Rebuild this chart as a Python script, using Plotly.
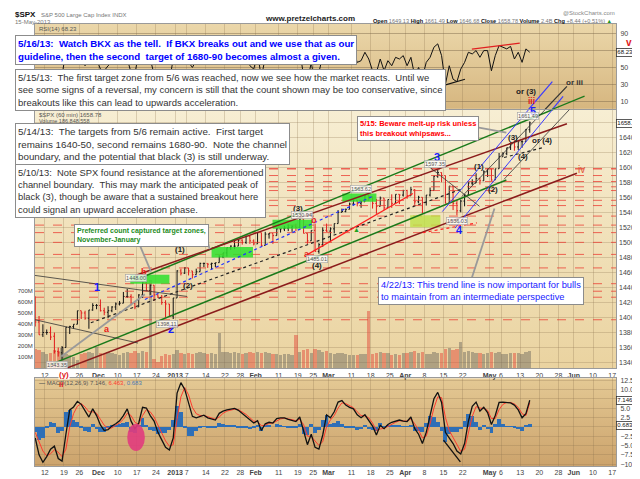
import base64
import plotly.graph_objects as go

# one value per trading day, Nov 7 2012 .. May 15 2013 (60 min chart squeezed to days)
opens = [1428, 1394, 1377, 1380, 1380, 1375, 1355, 1353, 1360, 1387,
         1388, 1391, 1409, 1406, 1399, 1410, 1416, 1416, 1409, 1407,
         1409, 1414, 1418, 1419, 1428, 1428, 1419, 1414, 1430, 1446,
         1436, 1443, 1430, 1427, 1420, 1418, 1402, 1426, 1462, 1459,
         1466, 1462, 1457, 1461, 1472, 1472, 1471, 1472, 1473, 1481,
         1486, 1493, 1495, 1495, 1503, 1500, 1508, 1502, 1498, 1513,
         1496, 1511, 1512, 1509, 1518, 1518, 1519, 1520, 1521, 1520,
         1531, 1512, 1502, 1516, 1488, 1497, 1516, 1515, 1518, 1525,
         1540, 1541, 1544, 1551, 1556, 1552, 1554, 1563, 1561, 1552,
         1548, 1559, 1546, 1557, 1552, 1564, 1563, 1569, 1562, 1570,
         1554, 1560, 1553, 1563, 1569, 1588, 1593, 1589, 1552, 1575,
         1552, 1542, 1555, 1563, 1579, 1579, 1585, 1582, 1594, 1598,
         1583, 1598, 1614, 1618, 1626, 1633, 1627, 1634, 1634, 1650]
highs = [1428, 1402, 1391, 1384, 1388, 1380, 1360, 1362, 1387, 1389,
         1391, 1409, 1409, 1409, 1410, 1419, 1418, 1424, 1413, 1415,
         1415, 1420, 1422, 1434, 1438, 1431, 1420, 1431, 1448, 1448,
         1444, 1443, 1431, 1430, 1423, 1418, 1426, 1463, 1465, 1467,
         1466, 1462, 1465, 1473, 1473, 1472, 1473, 1473, 1483, 1486,
         1493, 1496, 1502, 1504, 1504, 1509, 1509, 1504, 1514, 1513,
         1514, 1512, 1512, 1519, 1518, 1522, 1524, 1523, 1525, 1531,
         1531, 1512, 1516, 1525, 1499, 1520, 1525, 1520, 1525, 1543,
         1545, 1545, 1553, 1557, 1556, 1556, 1563, 1563, 1561, 1558,
         1561, 1559, 1557, 1564, 1564, 1564, 1570, 1570, 1574, 1571,
         1562, 1560, 1563, 1573, 1589, 1597, 1593, 1589, 1575, 1575,
         1555, 1557, 1564, 1580, 1584, 1592, 1586, 1596, 1598, 1598,
         1598, 1619, 1620, 1626, 1633, 1636, 1634, 1636, 1651, 1661]
lows = [1388, 1377, 1374, 1377, 1370, 1352, 1348, 1343, 1360, 1378,
        1385, 1391, 1398, 1397, 1385, 1409, 1411, 1408, 1403, 1399,
        1407, 1410, 1416, 1419, 1426, 1416, 1411, 1414, 1426, 1435,
        1430, 1422, 1426, 1417, 1400, 1401, 1398, 1426, 1456, 1458,
        1456, 1452, 1457, 1461, 1467, 1466, 1464, 1467, 1473, 1479,
        1481, 1490, 1491, 1495, 1497, 1498, 1498, 1496, 1498, 1495,
        1496, 1505, 1498, 1509, 1513, 1515, 1515, 1514, 1515, 1520,
        1512, 1498, 1502, 1488, 1485, 1494, 1514, 1501, 1512, 1525,
        1540, 1540, 1544, 1549, 1548, 1546, 1554, 1555, 1545, 1538,
        1548, 1543, 1546, 1546, 1552, 1551, 1561, 1558, 1562, 1550,
        1552, 1539, 1549, 1561, 1569, 1586, 1580, 1552, 1552, 1543,
        1536, 1540, 1548, 1563, 1576, 1579, 1577, 1582, 1587, 1582,
        1583, 1598, 1614, 1616, 1623, 1622, 1623, 1626, 1634, 1646]
closes = [1394, 1377, 1380, 1380, 1374, 1355, 1353, 1360, 1387, 1388,
          1391, 1409, 1406, 1399, 1410, 1416, 1416, 1409, 1407, 1409,
          1414, 1418, 1419, 1428, 1428, 1419, 1414, 1430, 1446, 1436,
          1443, 1430, 1427, 1420, 1418, 1402, 1426, 1462, 1459, 1466,
          1462, 1457, 1461, 1472, 1472, 1471, 1472, 1473, 1481, 1486,
          1493, 1495, 1495, 1503, 1500, 1508, 1502, 1498, 1513, 1496,
          1511, 1512, 1509, 1518, 1518, 1519, 1520, 1521, 1520, 1531,
          1512, 1502, 1516, 1488, 1497, 1516, 1515, 1518, 1525, 1540,
          1541, 1544, 1551, 1556, 1552, 1554, 1563, 1561, 1552, 1548,
          1559, 1546, 1557, 1552, 1564, 1563, 1569, 1562, 1570, 1554,
          1560, 1553, 1563, 1569, 1588, 1593, 1589, 1552, 1575, 1552,
          1542, 1555, 1563, 1579, 1579, 1585, 1582, 1594, 1598, 1583,
          1598, 1614, 1618, 1626, 1633, 1627, 1634, 1634, 1650, 1659]
volume_m = [180, 165, 150, 130, 145, 170, 160, 185, 135, 125,
            105, 75, 130, 140, 150, 140, 195, 140, 135, 150,
            140, 130, 125, 145, 150, 140, 160, 145, 160, 150,
            800, 90, 60, 110, 135, 120, 130, 165, 140, 135,
            140, 135, 140, 150, 140, 130, 140, 135, 320, 150,
            150, 140, 150, 145, 130, 140, 150, 140, 150, 145,
            150, 140, 135, 130, 120, 130, 135, 125, 300, 150,
            170, 175, 140, 180, 165, 150, 155, 145, 130, 145,
            140, 130, 125, 120, 125, 130, 135, 520, 130, 140,
            150, 145, 140, 120, 130, 125, 145, 140, 150, 155,
            140, 150, 130, 135, 150, 145, 140, 180, 185, 170,
            175, 240, 150, 160, 150, 145, 140, 135, 145, 150,
            145, 150, 130, 135, 140, 145, 140, 130, 150, 160]
rsi = [35, 28, 40, 42, 38, 30, 32, 40, 70, 62,
       66, 74, 60, 52, 64, 66, 60, 48, 46, 52,
       56, 60, 58, 66, 60, 44, 42, 68, 72, 54,
       60, 42, 44, 38, 40, 34, 60, 80, 66, 70,
       56, 50, 58, 68, 64, 60, 62, 64, 70, 72,
       68, 70, 64, 70, 58, 66, 52, 48, 66, 38,
       62, 60, 54, 66, 60, 62, 60, 58, 56, 70,
       40, 32, 56, 30, 44, 64, 58, 56, 64, 76,
       70, 68, 72, 70, 56, 58, 68, 60, 46, 44,
       60, 46, 58, 52, 62, 60, 64, 52, 62, 40,
       50, 38, 56, 62, 74, 78, 64, 30, 52, 36,
       33, 48, 56, 68, 66, 70, 62, 70, 70, 46,
       64, 76, 74, 72, 75, 60, 68, 56, 72, 68]
macd = [-3.0, -7.5, -9.5, -8.0, -6.0, -5.2, -8.5, -9.2, -2.0, 4.5,
        5.3, 6.8, 6.0, 4.2, 2.6, 4.8, 3.0, 0.5, -1.0, -0.8,
        0.2, 0.8, 1.6, 3.0, 4.8, 1.5, -0.5, 1.0, 5.2, 5.0,
        3.0, 1.5, -1.5, -3.5, -5.5, -6.2, -3.0, 9.0, 11.8, 10.0,
        6.0, 2.8, 2.4, 2.8, 3.1, 2.4, 2.0, 1.8, 3.6, 4.2,
        4.5, 4.7, 4.9, 4.4, 3.6, 2.8, 1.8, 1.0, 1.6, -1.0,
        0.8, 1.2, 1.0, 2.2, 2.4, 2.4, 2.0, 1.6, 1.4, 2.6,
        -1.5, -4.8, -2.0, -5.5, -6.0, -2.2, 3.2, 2.4, 4.0, 6.6,
        7.0, 5.8, 5.2, 4.8, 3.2, 2.4, 3.2, 1.8, 0.2, -2.2,
        0.4, -0.5, 0.6, 1.2, 1.6, 1.8, 1.5, 1.4, 2.6, -0.5,
        -2.0, -4.5, -1.5, 3.5, 7.5, 9.2, 6.5, -1.5, -3.0, -4.5,
        -6.5, -7.3, -4.5, 1.5, 5.5, 6.6, 4.2, 5.2, 3.8, 0.6,
        3.0, 6.5, 6.6, 6.6, 6.4, 5.8, 4.5, 2.4, 3.5, 7.1]
signal = [-1.5, -4.0, -6.5, -7.8, -7.2, -6.2, -6.8, -8.0, -6.0, 0.0,
          3.5, 5.5, 6.2, 5.3, 4.0, 4.0, 3.6, 2.0, 0.4, -0.4,
          -0.3, 0.4, 1.0, 2.0, 3.6, 3.0, 1.2, 0.6, 3.0, 4.6,
          4.0, 2.6, 0.5, -1.8, -3.8, -5.2, -4.8, 2.0, 8.0, 10.5,
          8.5, 5.2, 3.5, 3.0, 3.0, 2.7, 2.3, 2.0, 2.6, 3.6,
          4.2, 4.5, 4.7, 4.6, 4.0, 3.3, 2.4, 1.5, 1.4, 0.3,
          0.4, 0.9, 1.0, 1.6, 2.1, 2.3, 2.2, 1.9, 1.6, 2.0,
          0.6, -2.5, -2.6, -3.8, -5.0, -4.0, 0.0, 1.8, 3.0, 5.0,
          6.4, 6.2, 5.6, 5.1, 4.0, 3.0, 2.9, 2.4, 1.0, -1.0,
          -0.6, -0.4, 0.1, 0.7, 1.2, 1.6, 1.6, 1.5, 2.1, 0.8,
          -0.9, -3.0, -2.5, 0.8, 5.0, 8.0, 7.8, 2.5, -1.0, -3.0,
          -5.0, -6.6, -6.0, -2.0, 2.8, 5.4, 5.0, 4.9, 4.4, 2.2,
          2.2, 4.6, 6.0, 6.5, 6.5, 6.1, 5.2, 3.5, 3.0, 6.4]
hist = [-1.5, -3.5, -3.0, -0.2, 1.2, 1.0, -1.7, -1.2, 4.0, 4.5,
        1.8, 1.3, -0.2, -1.1, -1.4, 0.8, -0.6, -1.5, -1.4, -0.4,
        0.5, 0.4, 0.6, 1.0, 1.2, -1.5, -1.7, 0.4, 2.2, 0.4,
        -1.0, -1.1, -2.0, -1.7, -1.7, -1.0, 1.8, 5.5, 3.8, -0.5,
        -2.5, -2.4, -1.1, -0.2, 0.1, -0.3, -0.3, -0.2, 1.0, 0.6,
        0.3, 0.2, 0.2, -0.2, -0.4, -0.5, -0.6, -0.5, 0.2, -1.3,
        0.4, 0.3, 0.0, 0.6, 0.3, 0.1, -0.2, -0.3, -0.2, 0.6,
        -2.1, -2.3, 0.6, -1.7, -1.0, 1.8, 3.2, 0.6, 1.0, 1.6,
        0.6, -0.4, -0.4, -0.3, -0.8, -0.6, 0.3, -0.6, -0.8, -1.2,
        1.0, -0.1, 0.5, 0.5, 0.4, 0.2, -0.1, -0.1, 0.5, -1.3,
        -1.1, -1.5, 1.0, 2.7, 2.5, 1.2, -1.3, -4.0, -2.0, -1.5,
        -1.5, -0.7, 1.5, 3.5, 2.7, 1.2, -0.8, 0.3, -0.6, -1.6,
        0.8, 1.9, 0.6, 0.1, -0.1, -0.3, -0.7, -1.1, 0.5, 0.7]

# weekly ticks, as trading-day numbers
tick_days = [3, 8, 12, 17, 22, 27, 32, 37, 40, 45, 50, 54, 58, 64, 69, 73,
             77, 83, 88, 93, 97, 102, 107, 112, 119, 122, 127, 132, 137, 141, 146, 151]
tick_text = ['12', '19', '26', '<b>Dec</b>', '10', '17', '24', '<b>2013</b>', '7', '14',
             '22', '28', '<b>Feb</b>', '11', '19', '25', '<b>Mar</b>', '11', '18', '25',
             '<b>Apr</b>', '8', '15', '22', '<b>May</b>', '6', '13', '20', '28', '<b>Jun</b>',
             '10', '17']

# analyst drawings (day, price)
red_levels = [1598, 1589, 1581, 1574, 1569, 1556, 1549, 1535, 1523, 1513,
              1500, 1484, 1466, 1445, 1435, 1427, 1397]
target_zones = [(25.3, 35.5, 1445, 1457), (46.5, 57.3, 1480, 1494),
                (62.4, 72.7, 1518, 1530), (80.6, 89.5, 1554, 1565)]
yellow_zone = (98.3, 106.2, 1520, 1536)
green_lines = [(26.6, 1450, 143.8, 1694), (4.3, 1337, 123.4, 1583)]
maroon_lines = [(26.6, 1456, 139.2, 1658), (4.3, 1324, 141.8, 1592)]
blue_lines = [(106.7, 1541, 135.4, 1714), (110.0, 1519, 138.2, 1694)]
black_lines = [(111.8, 1561, 139.2, 1707), (122.8, 1584, 140.8, 1682),
               (102.4, 1604, 116.4, 1548), (0.44, 1456, 40.1, 1428), (0.44, 1397, 27.3, 1366)]
black_dotted = [(15.0, 1393, 111.8, 1571), (122.8, 1613, 132.8, 1626)]
blue_dotted = [(29.1, 1424, 88.8, 1562)]
red_lines = [(71.6, 1484, 99.0, 1565)]
red_dotted = [(101.6, 1513, 115.7, 1526)]
gray_lines = [(120.3, 1545, 114.4, 1453), (115.9, 1653, 123.4, 1646),
              (27.3, 1502, 30.7, 1461), (44.5, 1519, 46.0, 1491), (7.3, 1348, 29.1, 1431)]
# same drawings where they run up into the RSI pane (day, rsi)
rsi_lines = [('#e02020', 114.4, 71.8, 126.9, 78.8), ('#111111', 106.2, 27.4, 112.6, 35.9),
             ('#3a3aff', 129.1, -0.4, 135.4, 33.2), ('#3a3aff', 135.3, -0.4, 138.2, 15.7),
             ('#333333', 133.4, -0.4, 139.2, 27.4), ('#1a7a1a', 135.1, -0.4, 143.8, 15.8)]

wave_blue = [('1', 16.6, 1440), ('2', 35.8, 1385), ('3', 105.2, 1614), ('4', 111.1, 1517), ('5', 130.3, 1675)]
wave_black = [('(1)', 38.3, 1491), ('(2)', 40.4, 1443), ('(3)', 69.1, 1545), ('(4)', 74.0, 1469),
              ('(1)', 116.2, 1601), ('(2)', 120.0, 1570), ('(3)', 125.1, 1640), ('(4)', 127.7, 1614),
              ('or (4)', 132.8, 1635)]
wave_red = [('a', 19.1, 1385), ('b', 28.9, 1460), ('a', 71.4, 1484), ('b', 73.2, 1530)]
price_tags = [('1343.35', 6.3, 1337), ('1448.00', 26.8, 1452), ('1398.11', 34.8, 1392),
              ('1530.94', 70.0, 1537), ('1485.01', 74.0, 1478), ('1563.62', 85.5, 1571),
              ('1597.35', 104.9, 1605), ('1536.03', 110.5, 1528), ('1661.49', 129.0, 1668)]

xd = [i + 0.5 for i in range(len(closes))]
x_range = [0.44, 152.0]

# figure geometry (pixels) -> paper helpers for the text boxes
L, R, T, B = 25, 23, 16, 10
W, H = 640 - L - R, 479 - T - B


def px(x):
    return (x - L) / W


def py(y):
    return (479 - B - y) / H


def grad(top, bottom):
    svg = ('<svg xmlns="http://www.w3.org/2000/svg" width="4" height="100" viewBox="0 0 4 100" '
           'preserveAspectRatio="none"><defs><linearGradient id="g" x1="0" y1="0" x2="0" y2="1">'
           f'<stop offset="0" stop-color="{top}"/><stop offset="1" stop-color="{bottom}"/>'
           '</linearGradient></defs><rect width="4" height="100" fill="url(#g)"/></svg>')
    return 'data:image/svg+xml;base64,' + base64.b64encode(svg.encode()).decode()


rsi_dom = [py(103), 1.0]
price_dom = [py(369), py(104)]
macd_dom = [0, py(379)]

fig = go.Figure()

fig.add_trace(go.Scatter(x=xd, y=rsi, xaxis='x', yaxis='y', mode='lines',
                         line=dict(color='#111111', width=1), hoverinfo='skip'))

vol_colors = ['rgba(225,75,60,0.5)' if c < o else 'rgba(105,100,90,0.45)' for o, c in zip(opens, closes)]
fig.add_trace(go.Bar(x=xd, y=[v * 1e6 for v in volume_m], xaxis='x2', yaxis='y2', width=0.85,
                     marker=dict(color=vol_colors, line=dict(width=0)), hoverinfo='skip'))
fig.add_trace(go.Ohlc(x=xd, open=opens, high=highs, low=lows, close=closes, xaxis='x2', yaxis='y4',
                      increasing=dict(line=dict(color='#111111', width=1)),
                      decreasing=dict(line=dict(color='#e01a1a', width=1)),
                      tickwidth=0.3, hoverinfo='skip'))

fig.add_trace(go.Bar(x=xd, y=hist, xaxis='x3', yaxis='y3', width=1.0,
                     marker=dict(color='#2e6fb7', line=dict(width=0)), hoverinfo='skip'))
fig.add_trace(go.Scatter(x=xd, y=signal, xaxis='x3', yaxis='y3', mode='lines',
                         line=dict(color='#ff3b2f', width=1), hoverinfo='skip'))
fig.add_trace(go.Scatter(x=xd, y=macd, xaxis='x3', yaxis='y3', mode='lines',
                         line=dict(color='#111111', width=1.3), hoverinfo='skip'))

shapes = []
for k, lvl in enumerate(red_levels):
    shapes.append(dict(type='line', xref='x2', yref='y4', x0=x_range[0], x1=x_range[1], y0=lvl, y1=lvl,
                       line=dict(color='rgba(235,55,45,0.75)', width=1.6 if k == 0 else 1, dash='dash')))
for x0, x1, y0, y1 in target_zones:
    shapes.append(dict(type='rect', xref='x2', yref='y4', x0=x0, x1=x1, y0=y0, y1=y1,
                       fillcolor='rgba(45,225,45,0.85)', line=dict(width=0)))
shapes.append(dict(type='rect', xref='x2', yref='y4', x0=yellow_zone[0], x1=yellow_zone[1],
                   y0=yellow_zone[2], y1=yellow_zone[3],
                   fillcolor='rgba(190,225,70,0.8)', line=dict(width=0)))


def add_lines(lines, color, width, dash='solid'):
    for x0, y0, x1, y1 in lines:
        shapes.append(dict(type='line', xref='x2', yref='y4', x0=x0, y0=y0, x1=x1, y1=y1,
                           line=dict(color=color, width=width, dash=dash)))


add_lines(green_lines, '#1a7a1a', 1.5)
add_lines(maroon_lines, '#8b1c1c', 1.5)
add_lines(blue_lines, '#3a3aff', 1)
add_lines(black_lines, '#333333', 0.8)
add_lines(black_dotted, '#222222', 1.2, 'dot')
add_lines(blue_dotted, '#2030ff', 1.2, 'dot')
add_lines(red_lines, '#ff2020', 1.2)
add_lines(red_dotted, '#ff2020', 1.2, 'dot')
add_lines(gray_lines, '#9a9a9a', 1.8)
for color, x0, y0, x1, y1 in rsi_lines:
    shapes.append(dict(type='line', xref='x', yref='y', x0=x0, y0=y0, x1=x1, y1=y1,
                       line=dict(color=color, width=1.2)))
# MACD pane marks
shapes.append(dict(type='circle', xref='x3', yref='y3', x0=24.5, x1=29.1, y0=-6.5, y1=0.8,
                   fillcolor='rgba(225,60,125,0.9)', line=dict(width=0)))
shapes.append(dict(type='line', xref='x3', yref='y3', x0=107.0, y0=-3.6, x1=111.4, y1=-9.4,
                   line=dict(color='#111111', width=1.3)))

FONT = 'Liberation Sans, Arial, sans-serif'
ann = []


def box(x, y, text, size, color, bold=False):
    ann.append(dict(xref='paper', yref='paper', x=px(x), y=py(y), xanchor='left', yanchor='top',
                    text=f'<b>{text}</b>' if bold else text, showarrow=False, align='left',
                    font=dict(family=FONT, size=size, color=color), bgcolor='white',
                    bordercolor='#8c8c8c', borderwidth=1, borderpad=2))


def label(x, y, text, size, color, anchor='left', bg=None):
    ann.append(dict(xref='paper', yref='paper', x=px(x), y=py(y), xanchor=anchor, yanchor='top',
                    text=text, showarrow=False, font=dict(family=FONT, size=size, color=color),
                    bgcolor=bg, borderpad=0))


# header
label(4, 1, '<b>$SPX</b>', 8, '#111111')
label(30, 3, 'S&amp;P 500 Large Cap Index INDX', 6, '#777777')
label(4, 10, '15-May-2013', 6, '#777777')
label(258, 5, '<b>www.pretzelcharts.com</b>', 8, '#222222')
label(368, 9, "<b>Open</b> <span style='color:#777'>1649.13</span> <b>High</b> <span style='color:#777'>1661.49</span> "
              "<b>Low</b> <span style='color:#777'>1646.68</span> <b>Close</b> <span style='color:#777'>1658.78</span> "
              "<b>Volume</b> <span style='color:#777'>2.4B</span> <b>Chg</b> <span style='color:#777'>+8.44 (+0.51%)</span> "
              "<span style='color:#1a9a1a'>▲</span>", 5.6, '#111111')
label(617, 1, '@StockCharts.com', 6, '#888888', 'right')
label(28, 17, 'RSI(14) 68.23', 6, '#555555')
label(28, 105, '$SPX (60 min) 1658.78', 6, '#555555')
label(28, 111, 'Volume 186,848,558', 5.5, '#555555')
label(28, 380, "<b>—</b> MACD(12,26,9) 7.146, <span style='color:#ff3b2f'>6.463</span>, "
               "<span style='color:#4a7ab5'>0.683</span>", 6, '#555555')
label(630, 28, '<b>v</b>', 10, '#e01a1a', 'center')
label(55, 370, '<b>(y)</b>', 8, '#e01a1a', 'center', 'white')
label(52, 380, '<b>ii</b>', 8, '#e01a1a', 'center')

# comment boxes
box(5, 27, '5/16/13:  Watch BKX as the tell.  If BKX breaks out and we use that as our<br>'
           'guideline, then the second  target of 1680-90 becomes almost a given.', 9.7, '#0000ff', True)
box(5, 62, '5/15/13:  The first target zone from 5/6 was reached, now we see how the market reacts.  Until we<br>'
           'see some signs of a reversal, my concern is still that the count shown may be too conservative, since<br>'
           'breakouts like this can lead to upwards acceleration.', 9.5, '#333333')
box(5, 117, '5/14/13:  The targets from 5/6 remain active.  First target<br>'
            'remains 1640-50, second remains 1680-90.  Note the channel<br>'
            'boundary, and the potential that black (3) is still underway.', 9.8, '#333333')
box(5, 159, '5/10/13:  Note SPX found resistance at the aforementioned<br>'
            'channel boundary.  This may mark the anticipated peak of<br>'
            'black (3), though be aware that a sustained breakout here<br>'
            'could signal an upward acceleration phase.', 9.4, '#333333')
box(65, 221, 'Preferred count captured target zones,<br>November-January', 7, '#238b23', True)
box(353, 110, '5/15: Beware melt-up risk unless<br>this breakout whipsaws...', 7.5, '#ff0000', True)
box(375, 275, '4/22/13: This trend line is now important for bulls<br>'
              'to maintain from an intermediate perspective', 9.3, '#2020ff')

# wave counts
for t, x, y in wave_blue:
    ann.append(dict(xref='x2', yref='y4', x=x, y=y, text=f'<b>{t}</b>', showarrow=False,
                    font=dict(family=FONT, size=11, color='#1a1aff')))
for t, x, y in wave_black:
    ann.append(dict(xref='x2', yref='y4', x=x, y=y, text=f'<b>{t}</b>', showarrow=False,
                    font=dict(family=FONT, size=8, color='#222222')))
for t, x, y in wave_red:
    ann.append(dict(xref='x2', yref='y4', x=x, y=y, text=f'<b>{t}</b>', showarrow=False,
                    font=dict(family=FONT, size=9, color='#e81a1a')))
ann.append(dict(xref='x2', yref='y4', x=143.1, y=1597, text='iv', showarrow=False,
                font=dict(family=FONT, size=10, color='#e0553a')))
ann.append(dict(xref='x2', yref='y4', x=84.2, y=1517, text='▲', showarrow=False,
                font=dict(family=FONT, size=7, color='#20a020')))
for t, x, y, c in [('iii', 130.0, 10, '#e01a1a'), ('or (3)', 128.5, 21.6, '#222222'), ('or iii', 141.3, 32, '#333333')]:
    ann.append(dict(xref='x', yref='y', x=x, y=y, text=f'<b>{t}</b>', showarrow=False,
                    font=dict(family=FONT, size=8.5 if t == 'iii' else 8, color=c)))
for t, x, y in price_tags:
    ann.append(dict(xref='x2', yref='y4', x=x, y=y, text=t, showarrow=False, borderpad=0.5,
                    font=dict(family=FONT, size=5.5, color='#555555'), bgcolor='rgba(255,255,255,0.75)',
                    bordercolor='#a0a0a0', borderwidth=0.6))

# value tags on the right axis
for t, yref, y in [('1658.78', 'y4', 1658.78), ('68.23', 'y', 68.23), ('7.146', 'y3', 7.146), ('0.683', 'y3', 0.3)]:
    ann.append(dict(xref='paper', yref=yref, x=1.0, y=y, xanchor='left', text=t, showarrow=False,
                    font=dict(family=FONT, size=6, color='#111111'), bgcolor='white',
                    bordercolor='#333333', borderwidth=0.8, borderpad=0.5))

grid = 'rgba(140,115,80,0.28)'
tickfont = dict(family=FONT, size=7, color='#444444')
xcommon = dict(range=x_range, tickvals=tick_days, ticktext=tick_text, showgrid=True, gridcolor=grid,
               gridwidth=1, showline=True, mirror=True, linecolor='#9a9a9a', ticks='', zeroline=False,
               tickfont=tickfont, tickangle=0)
ycommon = dict(showgrid=True, gridcolor=grid, zeroline=False, ticks='', tickfont=tickfont,
               ticklabelstandoff=2)

images = []
for dom, top, bottom in [(rsi_dom, '#ebd7aa', '#d6b67f'), (price_dom, '#f7eed3', '#ead3a0'),
                         (macd_dom, '#e4c994', '#cca36c')]:
    images.append(dict(source=grad(top, bottom), xref='paper', yref='paper', x=0, y=dom[1],
                       sizex=1, sizey=dom[1] - dom[0], xanchor='left', yanchor='top',
                       sizing='stretch', layer='below'))

fig.update_layout(
    width=640, height=479,
    margin=dict(l=L, r=R, t=T, b=B),
    paper_bgcolor='white', plot_bgcolor='rgba(0,0,0,0)',
    showlegend=False, barmode='overlay', bargap=0,
    font=dict(family=FONT),
    xaxis=dict(xcommon, anchor='y', showticklabels=False),
    xaxis2=dict(xcommon, anchor='y2', showticklabels=True, rangeslider=dict(visible=False)),
    xaxis3=dict(xcommon, anchor='y3', showticklabels=True),
    yaxis=dict(ycommon, domain=rsi_dom, range=[0.7, 101.6], side='right', tickvals=[10, 30, 50, 70, 90],
               gridcolor='rgba(120,100,70,0.45)', showline=True, mirror=True, linecolor='#9a9a9a'),
    yaxis2=dict(domain=price_dom, range=[0, 2340e6], side='left',
                tickvals=[1e8, 2e8, 3e8, 4e8, 5e8, 6e8, 7e8],
                ticktext=['100M', '200M', '300M', '400M', '500M', '600M', '700M'],
                showgrid=False, zeroline=False, ticks='', tickfont=dict(family=FONT, size=6, color='#444444'),
                showline=True, mirror=True, linecolor='#9a9a9a'),
    yaxis4=dict(ycommon, overlaying='y2', anchor='x2', side='right', range=[1332.2, 1676.4],
                tickvals=list(range(1340, 1661, 20))),
    yaxis3=dict(ycommon, domain=macd_dom, range=[-10.5, 13.0], side='right',
                tickvals=[-10, -7.5, -5, -2.5, 0, 2.5, 5, 7.5, 10, 12.5], tickformat='.1f',
                showline=True, mirror=True, linecolor='#9a9a9a'),
    images=images,
    shapes=shapes,
    annotations=ann,
)

fig.write_html("out.html")
